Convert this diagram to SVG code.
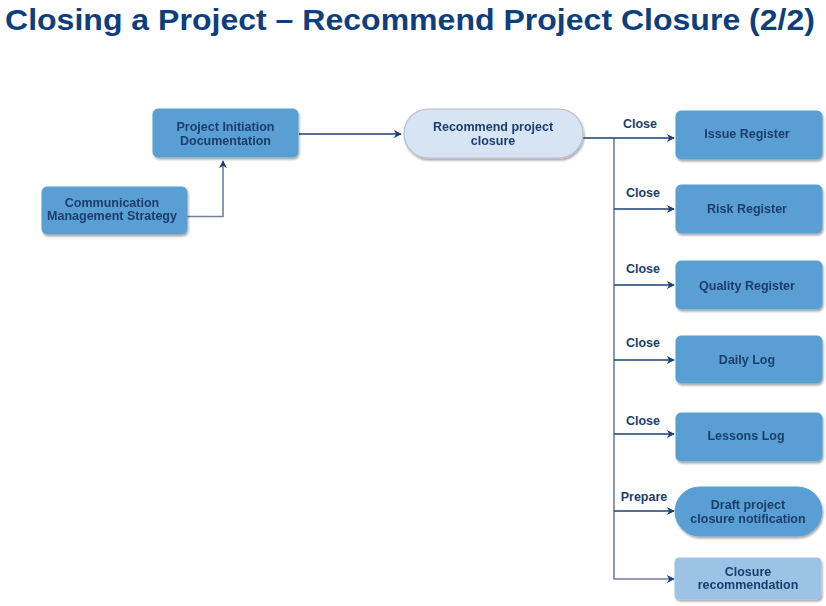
<svg xmlns="http://www.w3.org/2000/svg" width="826" height="606" viewBox="0 0 826 606">
<style>
.t{font-family:"Liberation Sans",Arial,sans-serif;font-weight:bold;fill:#1b3d6e;font-size:12.5px;text-anchor:middle}
.title{font-family:"Liberation Sans",Arial,sans-serif;font-weight:bold;fill:#0e3f7c;font-size:30px}
.box{fill:#5a9fd3;stroke:#5a9fd3;stroke-width:1}
.pill{fill:#d6e4f3;stroke:#b9bfc8;stroke-width:1.2}
.light{fill:#9cc3e5;stroke:#9cc3e5}
.ln{fill:none;stroke:#1b3f73;stroke-width:1.6}
.tr{fill:none;stroke:#6f7fa3;stroke-width:1.6}
</style>
<defs>
<marker id="ah" viewBox="0 0 10 10" refX="9" refY="5" markerWidth="8" markerHeight="8" markerUnits="userSpaceOnUse" orient="auto">
<path d="M0,0 L10,5 L0,10 L3,5 z" fill="#1b3f73"/>
</marker>
<filter id="sh" x="-10%" y="-10%" width="125%" height="135%">
<feGaussianBlur in="SourceAlpha" stdDeviation="1.2"/>
<feOffset dx="1" dy="2" result="o"/>
<feComponentTransfer><feFuncA type="linear" slope="0.35"/></feComponentTransfer>
<feMerge><feMergeNode/><feMergeNode in="SourceGraphic"/></feMerge>
</filter>
</defs>
<rect width="826" height="606" fill="#ffffff"/>
<text class="title" x="5" y="30" textLength="810" lengthAdjust="spacingAndGlyphs">Closing a Project – Recommend Project Closure (2/2)</text>

<g id="connectors">
<path class="tr" d="M187,216.5 H223 V161" marker-end="url(#ah)"/>
<path class="ln" d="M299,134 H401" marker-end="url(#ah)"/>
<path class="tr" d="M614,138 V579 H674" marker-end="url(#ah)"/>
<path class="ln" d="M583,138 H674" marker-end="url(#ah)"/>
<path class="ln" d="M614,209 H674" marker-end="url(#ah)"/>
<path class="ln" d="M614,285 H674" marker-end="url(#ah)"/>
<path class="ln" d="M614,360 H674" marker-end="url(#ah)"/>
<path class="ln" d="M614,434 H674" marker-end="url(#ah)"/>
<path class="ln" d="M614,511 H674" marker-end="url(#ah)"/>
<text class="t" x="640" y="128">Close</text>
<text class="t" x="643" y="197">Close</text>
<text class="t" x="643" y="273">Close</text>
<text class="t" x="643" y="347">Close</text>
<text class="t" x="643" y="425">Close</text>
<text class="t" x="644" y="501">Prepare</text>
</g>

<g id="pid" filter="url(#sh)">
<rect class="box" x="153" y="109" width="145" height="48" rx="5"/>
<text class="t" x="225.5" y="131">Project Initiation</text>
<text class="t" x="225.5" y="145">Documentation</text>
</g>
<g id="cms" filter="url(#sh)">
<rect class="box" x="42" y="187" width="145" height="47" rx="5"/>
<text class="t" x="112" y="207">Communication</text>
<text class="t" x="112" y="220">Management Strategy</text>
</g>
<g id="recommend" filter="url(#sh)">
<rect class="pill" x="404" y="109" width="179" height="49" rx="24.5"/>
<text class="t" x="493" y="131">Recommend project</text>
<text class="t" x="493" y="145">closure</text>
</g>
<g id="issue" filter="url(#sh)">
<rect class="box" x="676" y="111" width="146" height="48" rx="5"/>
<text class="t" x="747" y="138">Issue Register</text>
</g>
<g id="risk" filter="url(#sh)">
<rect class="box" x="676" y="185" width="146" height="48" rx="5"/>
<text class="t" x="747" y="213">Risk Register</text>
</g>
<g id="quality" filter="url(#sh)">
<rect class="box" x="676" y="261" width="146" height="48" rx="5"/>
<text class="t" x="747" y="290">Quality Register</text>
</g>
<g id="daily" filter="url(#sh)">
<rect class="box" x="676" y="336" width="146" height="47" rx="5"/>
<text class="t" x="747" y="364">Daily Log</text>
</g>
<g id="lessons" filter="url(#sh)">
<rect class="box" x="676" y="413" width="146" height="48" rx="5"/>
<text class="t" x="746" y="440">Lessons Log</text>
</g>
<g id="draft" filter="url(#sh)">
<rect class="box" x="675" y="487" width="147" height="49" rx="24.5"/>
<text class="t" x="748" y="509">Draft project</text>
<text class="t" x="748" y="523">closure notification</text>
</g>
<g id="closure" filter="url(#sh)">
<rect class="box light" x="675" y="558" width="146" height="41" rx="4"/>
<text class="t" x="748" y="576">Closure</text>
<text class="t" x="748" y="589">recommendation</text>
</g>
</svg>
